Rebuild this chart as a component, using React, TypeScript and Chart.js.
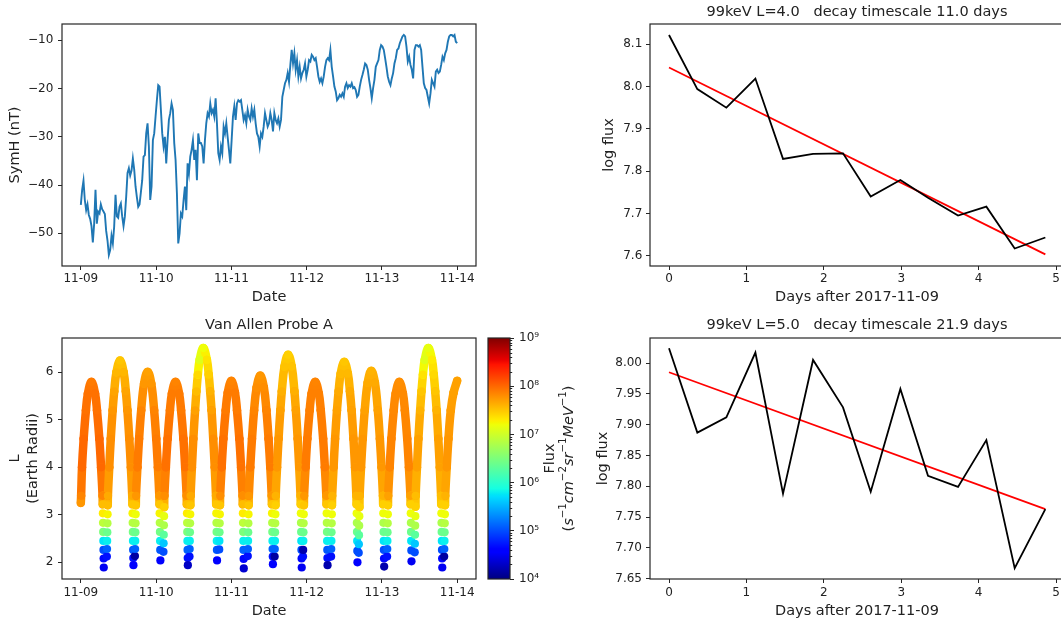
import React, { useEffect, useRef } from 'react';
import { Chart, registerables } from 'chart.js';

Chart.register(...registerables);

const FONT = "'DejaVu Sans', 'Liberation Sans', sans-serif";
const TEXT = '#222222';
const SPINE = '#262626';

// ---------------- data: SymH panel ----------------
const dateTickValues = [0, 1, 2, 3, 4, 5];
const dateTickLabels = ['11-09', '11-10', '11-11', '11-12', '11-13', '11-14'];
const symhTicks = [-50, -40, -30, -20, -10];
const symhTickLabels = ['\u221250', '\u221240', '\u221230', '\u221220', '\u221210'];
const symhCadenceMin = 25.532;
const symhValues = [
  -44.1, -41, -39.1, -43.1, -45.2, -44, -46.2, -47, -48.5, -51.9,
  -48, -41, -48, -45.5, -45.9, -44, -45, -45.5, -46, -49.5,
  -51.5, -54.5, -53.5, -50.5, -52.1, -48.6, -42, -46.5, -46.8, -44.5,
  -43.8, -46.5, -48.5, -46.5, -42.4, -37.5, -36.5, -38, -37, -34.5,
  -36.8, -40.3, -42.5, -44.5, -44, -41.5, -39, -34.1, -33.8, -29.3,
  -27.2, -32,
  -43.1, -40.3, -30.7, -29.3, -25.8, -22.4, -19.3, -19.6, -24.4, -29.3,
  -32, -30, -35.5, -30.7, -26.5, -25.1, -23.1, -24.4, -31.3, -34.8,
  -41.7, -52.1, -50, -45.9, -46.5, -43.1, -40.3, -45.2, -35.5, -37.6,
  -34.1, -32.7, -30.7, -34.8, -32.7, -39, -29.3, -31.3, -31.3, -32,
  -35.5, -30.7, -27.2, -25.1, -25.8, -23.1, -25.1, -24.4, -25.8, -22,
  -27.2, -33.4, -34.8, -32, -33.4, -27.9, -29.3, -27.2, -30, -32.7,
  -35.5, -30.7, -25.8, -23.7, -26.5, -23.1, -22.4, -22.7, -22.4, -24.4,
  -26.5, -25.5, -27.2, -24.4, -25.8, -26.5, -24.1, -25.8, -24.4, -27.2,
  -29.3, -30, -32, -29.3, -30, -27.9, -25.1, -26.5, -27.9, -27.2,
  -25.1, -26.5, -28.9, -25.1, -26.5, -27.2, -26.2, -27.9, -26.5, -21.7,
  -20.3, -18.9, -18.2, -16.8, -18.6, -15.1, -12, -14.8, -12.7, -16.1,
  -14.1, -17.5, -15.5, -17.9, -16.8, -16.1, -14.8, -17.5, -16.1, -14.1,
  -14.4, -13, -13.4, -14.1, -13.7, -15.5, -17.5, -18.6, -17.9, -18.9,
  -17.5, -15.5, -14.1, -13.7, -14.1, -12, -15.5, -17.5, -19.6, -20.6,
  -22.4, -22, -21.3, -21.7, -21, -21.7, -19.6, -18.9, -19.9, -19.3,
  -19.6, -18.9, -19.9, -19.7, -20.3, -21.7, -21.3, -19.6, -18.2, -17.2,
  -16.1, -14.8, -15.1, -16.1, -18.2, -19.9, -22, -19.9, -18.2, -15.5,
  -14.8, -14.1, -12, -11, -11.3, -12, -13.7, -15.5, -17.5, -18.6,
  -19.3, -17.9, -16.8, -14.8, -13.7, -12, -11.7, -10.6, -9.9, -9.2,
  -8.9, -9.2, -11.3, -14.4, -13.4, -15.1, -16.1, -17.9, -12, -11,
  -11, -11.3, -11, -12, -15.5, -18.9, -19.9, -20.3, -21.7, -23.1,
  -21, -18.2, -18.9, -19.6, -16.5, -16.1, -16.8, -16.5, -15.1, -13.4,
  -14.1, -12.7, -12, -10.3, -9.2, -8.9, -8.9, -9.2, -8.9, -10.3,
  -10.6,
];

// ---------------- data: decay panels ----------------
const dayTicks = [0, 1, 2, 3, 4, 5];
const dayTickLabels = ['0', '1', '2', '3', '4', '5'];
const sampleDays = [0, 0.366, 0.741, 1.116, 1.473, 1.861, 2.248, 2.606, 2.989, 3.346, 3.734, 4.1, 4.466, 4.862];
const logFluxL4 = [8.122, 7.994, 7.95, 8.019, 7.829, 7.841, 7.842, 7.74, 7.779, 7.737, 7.695, 7.716, 7.617, 7.643];
const logFluxL5 = [8.024, 7.887, 7.912, 8.017, 7.788, 8.005, 7.928, 7.791, 7.958, 7.817, 7.799, 7.875, 7.667, 7.763];
const fitDays = [0, 4.862];
const fitL4 = [8.045, 7.603];
const fitL5 = [7.985, 7.763];
const l4Ticks = [7.6, 7.7, 7.8, 7.9, 8.0, 8.1];
const l4TickLabels = ['7.6', '7.7', '7.8', '7.9', '8.0', '8.1'];
const l5Ticks = [7.65, 7.7, 7.75, 7.8, 7.85, 7.9, 7.95, 8.0];
const l5TickLabels = ['7.65', '7.70', '7.75', '7.80', '7.85', '7.90', '7.95', '8.00'];

// ---------------- data: Van Allen Probe A track [day, L, log10 flux] ----------------
const lShellTicks = [2, 3, 4, 5, 6];
const lShellTickLabels = ['2', '3', '4', '5', '6'];
const colorbarTicks = [1e4, 1e5, 1e6, 1e7, 1e8, 1e9];
const colorbarTickLabels = ['10\u2074', '10\u2075', '10\u2076', '10\u2077', '10\u2078', '10\u2079'];

const orbit00 = [
  [0.000, 3.25, 7.75], [0.004, 3.40, 7.85], [0.016, 4.00, 8.00], [0.038, 4.60, 8.00], [0.068, 5.20, 7.95], [0.094, 5.55, 7.95], [0.141, 5.80, 7.90],
  [0.189, 5.55, 7.95], [0.215, 5.20, 7.95], [0.246, 4.60, 8.00], [0.269, 4.00, 8.00], [0.289, 3.40, 7.85],
  [0.291, 3.22, 7.55], [0.293, 3.03, 7.30], [0.295, 2.83, 6.90], [0.297, 2.64, 6.50], [0.299, 2.45, 5.75], [0.301, 2.26, 5.00], [0.303, 2.08, 4.65], [0.305, 1.89, 4.50],
  [0.346, 2.12, 4.70], [0.348, 2.28, 5.10], [0.350, 2.45, 5.80], [0.352, 2.63, 6.40], [0.354, 2.82, 6.85], [0.356, 3.01, 7.25], [0.358, 3.20, 7.55],
];
const orbit01 = [
  [0.360, 3.40, 7.65], [0.378, 4.00, 7.80], [0.398, 4.60, 7.80], [0.423, 5.20, 7.75], [0.444, 5.60, 7.68], [0.473, 6.00, 7.58], [0.521, 6.25, 7.50],
  [0.569, 6.00, 7.58], [0.598, 5.60, 7.68], [0.619, 5.20, 7.75], [0.644, 4.60, 7.80], [0.665, 4.00, 7.80], [0.683, 3.40, 7.65],
  [0.685, 3.22, 7.50], [0.687, 3.03, 7.25], [0.689, 2.83, 6.85], [0.691, 2.64, 6.45], [0.693, 2.45, 5.80], [0.695, 2.26, 5.05], [0.697, 2.09, 4.70], [0.699, 1.94, 4.55],
  [0.719, 2.13, 4.15], [0.721, 2.28, 5.10], [0.723, 2.45, 5.80], [0.725, 2.63, 6.40], [0.727, 2.82, 6.85], [0.729, 3.01, 7.20], [0.731, 3.20, 7.50],
];
const orbit02 = [
  [0.733, 3.40, 7.75], [0.752, 4.00, 7.90], [0.774, 4.60, 7.90], [0.802, 5.20, 7.85], [0.840, 5.76, 7.75], [0.888, 6.01, 7.70],
  [0.936, 5.76, 7.75], [0.974, 5.20, 7.85], [1.002, 4.60, 7.90], [1.024, 4.00, 7.90], [1.043, 3.40, 7.75],
  [1.045, 3.22, 7.50], [1.047, 3.03, 7.25], [1.049, 2.83, 6.85], [1.051, 2.64, 6.45], [1.053, 2.45, 5.80], [1.055, 2.26, 5.05], [1.057, 2.04, 4.60],
  [1.098, 2.22, 5.00], [1.100, 2.40, 5.60], [1.102, 2.58, 6.30], [1.104, 2.78, 6.80], [1.106, 2.97, 7.15], [1.108, 3.16, 7.45],
];
const orbit03 = [
  [1.110, 3.40, 7.80], [1.130, 4.00, 7.95], [1.153, 4.60, 7.95], [1.184, 5.20, 7.90], [1.210, 5.55, 7.90], [1.258, 5.80, 7.85],
  [1.306, 5.55, 7.90], [1.332, 5.20, 7.90], [1.363, 4.60, 7.95], [1.386, 4.00, 7.95], [1.406, 3.40, 7.80],
  [1.408, 3.22, 7.55], [1.410, 3.03, 7.30], [1.412, 2.83, 6.90], [1.414, 2.64, 6.50], [1.416, 2.45, 5.80], [1.418, 2.26, 5.10], [1.420, 2.09, 4.70], [1.422, 1.94, 4.30],
  [1.444, 2.12, 4.70], [1.446, 2.28, 5.10], [1.448, 2.45, 5.80], [1.450, 2.63, 6.40], [1.452, 2.82, 6.85], [1.454, 3.01, 7.25], [1.456, 3.20, 7.50],
];
const orbit04 = [
  [1.458, 3.40, 7.65], [1.476, 4.00, 7.80], [1.495, 4.60, 7.80], [1.518, 5.20, 7.70], [1.536, 5.60, 7.55], [1.555, 5.95, 7.40], [1.579, 6.26, 7.10], [1.627, 6.51, 7.20],
  [1.675, 6.26, 7.35], [1.699, 5.95, 7.45], [1.718, 5.60, 7.60], [1.737, 5.20, 7.70], [1.759, 4.60, 7.80], [1.779, 4.00, 7.80], [1.796, 3.40, 7.65],
  [1.798, 3.22, 7.50], [1.800, 3.03, 7.25], [1.802, 2.83, 6.85], [1.804, 2.64, 6.45], [1.806, 2.45, 5.80], [1.808, 2.26, 5.05], [1.810, 2.04, 4.60],
  [1.839, 2.27, 5.00], [1.841, 2.45, 5.75], [1.843, 2.63, 6.40], [1.845, 2.82, 6.85], [1.847, 3.01, 7.25], [1.849, 3.20, 7.50],
];
const orbit05 = [
  [1.851, 3.40, 7.80], [1.871, 4.00, 7.95], [1.894, 4.60, 7.95], [1.925, 5.20, 7.90], [1.952, 5.57, 7.90], [2.000, 5.82, 7.85],
  [2.048, 5.57, 7.90], [2.075, 5.20, 7.90], [2.106, 4.60, 7.95], [2.129, 4.00, 7.95], [2.149, 3.40, 7.80],
  [2.151, 3.22, 7.55], [2.153, 3.03, 7.30], [2.155, 2.83, 6.90], [2.157, 2.64, 6.50], [2.159, 2.45, 5.80], [2.161, 2.26, 5.10], [2.163, 2.07, 4.65], [2.165, 1.87, 4.35],
  [2.218, 2.13, 4.70], [2.220, 2.28, 5.10], [2.222, 2.45, 5.80], [2.224, 2.63, 6.40], [2.226, 2.82, 6.85], [2.228, 3.01, 7.25], [2.230, 3.20, 7.50],
];
const orbit06 = [
  [2.232, 3.40, 7.75], [2.251, 4.00, 7.90], [2.274, 4.60, 7.90], [2.302, 5.20, 7.85], [2.336, 5.68, 7.80], [2.384, 5.93, 7.75],
  [2.432, 5.68, 7.80], [2.466, 5.20, 7.85], [2.494, 4.60, 7.90], [2.517, 4.00, 7.90], [2.536, 3.40, 7.75],
  [2.538, 3.22, 7.50], [2.540, 3.03, 7.25], [2.542, 2.83, 6.85], [2.544, 2.64, 6.45], [2.546, 2.45, 5.80], [2.548, 2.28, 5.10], [2.550, 2.12, 4.70], [2.552, 1.96, 4.55],
  [2.575, 2.12, 4.15], [2.577, 2.28, 5.10], [2.579, 2.45, 5.80], [2.581, 2.63, 6.40], [2.583, 2.82, 6.85], [2.585, 3.01, 7.20], [2.587, 3.20, 7.45],
];
const orbit07 = [
  [2.589, 3.40, 7.60], [2.607, 4.00, 7.75], [2.627, 4.60, 7.75], [2.651, 5.20, 7.70], [2.670, 5.60, 7.62], [2.706, 6.12, 7.52], [2.754, 6.37, 7.45],
  [2.802, 6.12, 7.52], [2.838, 5.60, 7.62], [2.857, 5.20, 7.70], [2.881, 4.60, 7.75], [2.901, 4.00, 7.75], [2.919, 3.40, 7.60],
  [2.921, 3.22, 7.45], [2.923, 3.03, 7.20], [2.925, 2.83, 6.80], [2.927, 2.64, 6.40], [2.929, 2.45, 5.75], [2.931, 2.26, 5.00], [2.933, 2.08, 4.65], [2.935, 1.89, 4.50],
  [2.952, 2.12, 4.70], [2.954, 2.26, 4.20], [2.956, 2.45, 5.80], [2.958, 2.63, 6.40], [2.960, 2.82, 6.85], [2.962, 3.01, 7.20], [2.964, 3.20, 7.50],
];
const orbit08 = [
  [2.966, 3.40, 7.75], [2.986, 4.00, 7.90], [3.009, 4.60, 7.90], [3.040, 5.20, 7.88], [3.066, 5.55, 7.87], [3.114, 5.80, 7.85],
  [3.162, 5.55, 7.87], [3.188, 5.20, 7.88], [3.219, 4.60, 7.90], [3.242, 4.00, 7.90], [3.262, 3.40, 7.75],
  [3.264, 3.22, 7.50], [3.266, 3.03, 7.20], [3.268, 2.83, 6.85], [3.270, 2.64, 6.45], [3.272, 2.45, 5.80], [3.274, 2.26, 5.05], [3.276, 2.09, 4.70], [3.278, 1.94, 4.20],
  [3.325, 2.12, 4.70], [3.327, 2.28, 5.10], [3.329, 2.45, 5.80], [3.331, 2.63, 6.40], [3.333, 2.82, 6.85], [3.335, 3.01, 7.20], [3.337, 3.20, 7.45],
];
const orbit09 = [
  [3.339, 3.40, 7.60], [3.358, 4.00, 7.75], [3.378, 4.60, 7.75], [3.403, 5.20, 7.70], [3.425, 5.60, 7.65], [3.452, 5.97, 7.57], [3.500, 6.22, 7.50],
  [3.548, 5.97, 7.57], [3.575, 5.60, 7.65], [3.597, 5.20, 7.70], [3.622, 4.60, 7.75], [3.643, 4.00, 7.75], [3.661, 3.40, 7.60],
  [3.663, 3.22, 7.45], [3.665, 3.03, 7.20], [3.667, 2.83, 6.80], [3.669, 2.64, 6.40], [3.671, 2.45, 5.75], [3.673, 2.24, 5.00], [3.675, 2.00, 4.60],
  [3.692, 2.20, 5.00], [3.694, 2.38, 5.60], [3.696, 2.57, 6.30], [3.698, 2.77, 6.80], [3.700, 2.97, 7.15], [3.702, 3.16, 7.45],
];
const orbit10 = [
  [3.704, 3.40, 7.60], [3.723, 4.00, 7.75], [3.745, 4.60, 7.75], [3.772, 5.20, 7.70], [3.811, 5.78, 7.65], [3.859, 6.03, 7.60],
  [3.907, 5.78, 7.65], [3.946, 5.20, 7.70], [3.973, 4.60, 7.75], [3.995, 4.00, 7.75], [4.014, 3.40, 7.60],
  [4.016, 3.22, 7.45], [4.018, 3.03, 7.20], [4.020, 2.83, 6.80], [4.022, 2.64, 6.40], [4.024, 2.45, 5.75], [4.026, 2.26, 5.00], [4.028, 2.08, 4.65], [4.030, 1.91, 4.20],
  [4.069, 2.12, 4.70], [4.071, 2.28, 5.10], [4.073, 2.45, 5.80], [4.075, 2.63, 6.40], [4.077, 2.82, 6.85], [4.079, 3.01, 7.20], [4.081, 3.20, 7.45],
];
const orbit11 = [
  [4.083, 3.40, 7.70], [4.103, 4.00, 7.85], [4.126, 4.60, 7.85], [4.157, 5.20, 7.83], [4.183, 5.55, 7.82], [4.231, 5.80, 7.80],
  [4.279, 5.55, 7.82], [4.305, 5.20, 7.83], [4.336, 4.60, 7.85], [4.359, 4.00, 7.85], [4.379, 3.40, 7.70],
  [4.381, 3.22, 7.45], [4.383, 3.03, 7.20], [4.385, 2.83, 6.80], [4.387, 2.64, 6.40], [4.389, 2.45, 5.75], [4.391, 2.25, 5.00], [4.393, 2.02, 4.50],
  [4.436, 2.21, 5.00], [4.438, 2.39, 5.60], [4.440, 2.58, 6.30], [4.442, 2.77, 6.80], [4.444, 2.97, 7.15], [4.446, 3.17, 7.45],
];
const orbit12 = [
  [4.448, 3.40, 7.55], [4.466, 4.00, 7.70], [4.485, 4.60, 7.70], [4.508, 5.20, 7.60], [4.526, 5.60, 7.50], [4.545, 5.95, 7.35], [4.569, 6.26, 7.10], [4.617, 6.51, 7.15],
  [4.665, 6.26, 7.30], [4.689, 5.95, 7.40], [4.708, 5.60, 7.50], [4.727, 5.20, 7.60], [4.749, 4.60, 7.70], [4.769, 4.00, 7.70], [4.786, 3.40, 7.55],
  [4.788, 3.22, 7.45], [4.790, 3.03, 7.20], [4.792, 2.83, 6.80], [4.794, 2.64, 6.40], [4.796, 2.45, 5.75], [4.798, 2.26, 5.00], [4.800, 2.08, 4.65], [4.802, 1.89, 4.50],
  [4.827, 2.12, 4.15], [4.829, 2.28, 5.10], [4.831, 2.45, 5.80], [4.833, 2.63, 6.40], [4.835, 2.82, 6.85], [4.837, 3.01, 7.20], [4.839, 3.20, 7.45],
];
const orbit13 = [
  [4.841, 3.40, 7.60], [4.861, 4.00, 7.75], [4.884, 4.60, 7.75], [4.915, 5.20, 7.72], [4.952, 5.57, 7.70], [5.000, 5.82, 7.70],
];
const vapTrack = [
  ...orbit00, ...orbit01, ...orbit02, ...orbit03, ...orbit04, ...orbit05, ...orbit06,
  ...orbit07, ...orbit08, ...orbit09, ...orbit10, ...orbit11, ...orbit12, ...orbit13,
];

// ---------------- jet colormap (matplotlib segment data) ----------------
const JET_R = [[0, 0], [0.35, 0], [0.66, 1], [0.89, 1], [1, 0.5]];
const JET_G = [[0, 0], [0.125, 0], [0.375, 1], [0.64, 1], [0.91, 0], [1, 0]];
const JET_B = [[0, 0.5], [0.11, 1], [0.34, 1], [0.65, 0], [1, 0]];
const JET_STOPS = [0, 0.11, 0.125, 0.34, 0.35, 0.375, 0.64, 0.65, 0.66, 0.89, 0.91, 1];
const LOG_MIN = 4;
const LOG_MAX = 9;

function piece(t: number, pts: number[][]) {
  for (let i = 1; i < pts.length; i++) {
    if (t <= pts[i][0]) {
      const [x0, y0] = pts[i - 1];
      const [x1, y1] = pts[i];
      return y0 + ((y1 - y0) * (t - x0)) / (x1 - x0);
    }
  }
  return pts[pts.length - 1][1];
}
function jet(t: number) {
  const u = Math.min(1, Math.max(0, t));
  const r = Math.round(255 * piece(u, JET_R));
  const g = Math.round(255 * piece(u, JET_G));
  const b = Math.round(255 * piece(u, JET_B));
  return `rgb(${r},${g},${b})`;
}
const fluxColor = (logF: number) => jet((logF - LOG_MIN) / (LOG_MAX - LOG_MIN));

// ---------------- helpers ----------------
const framePlugin = {
  id: 'frame',
  afterDraw(chart: any, _args: any, opts: any) {
    const { ctx, chartArea: a } = chart;
    ctx.save();
    ctx.strokeStyle = SPINE;
    ctx.lineWidth = 1.2;
    ctx.strokeRect(a.left, a.top, a.right - a.left, a.bottom - a.top);
    if (opts && opts.title) {
      ctx.fillStyle = TEXT;
      ctx.font = `14.5px ${FONT}`;
      ctx.textAlign = 'center';
      ctx.textBaseline = 'middle';
      ctx.fillText(opts.title, (a.left + a.right) / 2, a.top - opts.gap);
    }
    ctx.restore();
  },
};

function axis(o: any) {
  return {
    type: o.type || 'linear',
    position: o.position,
    display: true,
    min: o.min,
    max: o.max,
    afterBuildTicks: (s: any) => {
      s.ticks = o.ticks.map((v: number) => ({ value: v }));
    },
    afterFit: (s: any) => {
      if (o.isX) s.height = o.size;
      else s.width = o.size;
    },
    grid: { drawOnChartArea: false, drawTicks: true, tickLength: 4, color: SPINE, lineWidth: 1 },
    border: { display: false },
    ticks: {
      autoSkip: false,
      maxRotation: 0,
      minRotation: 0,
      padding: o.tickPad,
      color: TEXT,
      font: { family: FONT, size: 12 },
      callback: (_v: any, i: number) => o.labels[i],
    },
    title: o.title || { display: false },
  };
}
function axisTitle(text: any, pad: any, lineHeight = 1.2) {
  return {
    display: true,
    text,
    color: TEXT,
    font: { family: FONT, size: 14.5, lineHeight },
    padding: pad,
  };
}
const baseOptions = {
  responsive: false,
  maintainAspectRatio: false,
  animation: false,
  devicePixelRatio: 1,
  events: [],
};
const basePlugins = { legend: { display: false }, tooltip: { enabled: false }, title: { display: false } };

function symhConfig(): any {
  return {
    type: 'line',
    data: {
      datasets: [
        {
          data: symhValues.map((v, i) => ({ x: (i * symhCadenceMin) / 1440, y: v })),
          borderColor: '#1f77b4',
          borderWidth: 1.9,
          pointRadius: 0,
          tension: 0,
          fill: false,
        },
      ],
    },
    options: {
      ...baseOptions,
      layout: { padding: { left: 0, top: 24, right: 14, bottom: 4 } },
      scales: {
        x: axis({ min: -0.25, max: 5.25, ticks: dateTickValues, labels: dateTickLabels, isX: true, size: 40, tickPad: 2.1, title: axisTitle('Date', { top: 0, bottom: 0 }) }),
        y: axis({ min: -56.78, max: -6.62, ticks: symhTicks, labels: symhTickLabels, isX: false, size: 62, tickPad: 4.7, title: axisTitle('SymH (nT)', { top: 6.3, bottom: 0 }) }),
      },
      plugins: { ...basePlugins, frame: {} },
    },
    plugins: [framePlugin],
  };
}

function decayConfig(values: number[], fit: number[], yMin: number, yMax: number, ticks: number[], labels: string[], title: string, tickPad: number, titlePad: number, padTop: number): any {
  return {
    type: 'line',
    data: {
      datasets: [
        {
          data: sampleDays.map((d, i) => ({ x: d, y: values[i] })),
          borderColor: '#000000',
          borderWidth: 1.8,
          pointRadius: 0,
          tension: 0,
          fill: false,
        },
        {
          data: fitDays.map((d, i) => ({ x: d, y: fit[i] })),
          borderColor: '#ff0000',
          borderWidth: 1.8,
          pointRadius: 0,
          tension: 0,
          fill: false,
        },
      ],
    },
    options: {
      ...baseOptions,
      layout: { padding: { left: 0, top: padTop, right: 16, bottom: padTop === 24 ? 4 : 3 } },
      scales: {
        x: axis({ min: -0.2455, max: 5.103, ticks: dayTicks, labels: dayTickLabels, isX: true, size: padTop === 24 ? 40 : 41, tickPad: padTop === 24 ? 2.1 : 2.5, title: axisTitle('Days after 2017-11-09', { top: 0, bottom: 0 }) }),
        y: axis({ min: yMin, max: yMax, ticks, labels, isX: false, size: 70, tickPad, title: axisTitle('log flux', { top: titlePad, bottom: 0 }) }),
      },
      plugins: { ...basePlugins, frame: { title, gap: padTop === 24 ? 11.7 : 13 } },
    },
    plugins: [framePlugin],
  };
}

function trackConfig(): any {
  return {
    type: 'line',
    data: {
      datasets: [
        {
          data: vapTrack.map((p) => ({ x: p[0], y: p[1] })),
          borderWidth: 8.5,
          borderCapStyle: 'round',
          borderJoinStyle: 'round',
          tension: 0.4,
          fill: false,
          pointRadius: 4.1,
          pointHoverRadius: 4.1,
          pointBorderWidth: 0,
          pointBorderColor: 'rgba(0,0,0,0)',
          pointBackgroundColor: (c: any) => fluxColor(vapTrack[c.dataIndex][2]),
          segment: {
            borderColor: (c: any) => {
              const a = vapTrack[c.p0DataIndex];
              const b = vapTrack[c.p1DataIndex];
              if (a[1] < 3.3 && b[1] < 3.3) return 'rgba(0,0,0,0)';
              return fluxColor((a[2] + b[2]) / 2);
            },
          },
        },
      ],
    },
    options: {
      ...baseOptions,
      layout: { padding: { left: 0, top: 28, right: 8, bottom: 3 } },
      scales: {
        x: axis({ min: -0.25, max: 5.25, ticks: dateTickValues, labels: dateTickLabels, isX: true, size: 41, tickPad: 2.5, title: axisTitle('Date', { top: 0, bottom: 0 }) }),
        y: axis({ min: 1.648, max: 6.722, ticks: lShellTicks, labels: lShellTickLabels, isX: false, size: 62, tickPad: 4.7, title: axisTitle(['L', '(Earth Radii)'], { top: 5.85, bottom: 0 }, 1.262) }),
      },
      plugins: { ...basePlugins, frame: { title: 'Van Allen Probe A', gap: 13 } },
    },
    plugins: [framePlugin],
  };
}

const colorbarPlugin = {
  id: 'colorbarFill',
  beforeDatasetsDraw(chart: any) {
    const { ctx, chartArea: a } = chart;
    const g = ctx.createLinearGradient(0, a.bottom, 0, a.top);
    JET_STOPS.forEach((t) => g.addColorStop(t, jet(t)));
    ctx.save();
    ctx.fillStyle = g;
    ctx.fillRect(a.left, a.top, a.right - a.left, a.bottom - a.top);
    ctx.restore();
  },
  afterDraw(chart: any) {
    const { ctx, chartArea: a } = chart;
    const y = chart.scales.y;
    ctx.save();
    ctx.strokeStyle = SPINE;
    ctx.lineWidth = 1;
    for (let n = 4; n < 9; n++) {
      for (let k = 2; k <= 9; k++) {
        const py = Math.round(y.getPixelForValue(k * Math.pow(10, n))) + 0.5;
        ctx.beginPath();
        ctx.moveTo(a.right, py);
        ctx.lineTo(a.right + 2.2, py);
        ctx.stroke();
      }
    }
    const cy = (a.top + a.bottom) / 2;
    ctx.fillStyle = TEXT;
    ctx.textBaseline = 'middle';
    ctx.textAlign = 'center';
    ctx.translate(a.right + 40.7, cy);
    ctx.rotate(-Math.PI / 2);
    ctx.font = `14.5px ${FONT}`;
    ctx.fillText('Flux', 0, 0);
    ctx.restore();

    const pieces = [
      { t: '(', it: false, sup: false },
      { t: 's', it: true, sup: false },
      { t: '\u22121', it: false, sup: true },
      { t: 'cm', it: true, sup: false },
      { t: '\u22122', it: false, sup: true },
      { t: 'sr', it: true, sup: false },
      { t: '\u22121', it: false, sup: true },
      { t: 'MeV', it: true, sup: false },
      { t: '\u22121', it: false, sup: true },
      { t: ')', it: false, sup: false },
    ];
    const fontOf = (p: any) => (p.sup ? `10.2px ${FONT}` : `${p.it ? 'italic ' : ''}14.5px ${FONT}`);
    ctx.save();
    ctx.fillStyle = TEXT;
    ctx.textBaseline = 'middle';
    ctx.textAlign = 'left';
    let total = 0;
    const widths = pieces.map((p) => {
      ctx.font = fontOf(p);
      const w = ctx.measureText(p.t).width;
      total += w;
      return w;
    });
    ctx.translate(a.right + 59, cy);
    ctx.rotate(-Math.PI / 2);
    let x = -total / 2;
    pieces.forEach((p, i) => {
      ctx.font = fontOf(p);
      ctx.fillText(p.t, x, p.sup ? -5.5 : 0);
      x += widths[i];
    });
    ctx.restore();

    ctx.save();
    ctx.strokeStyle = SPINE;
    ctx.lineWidth = 1.2;
    ctx.strokeRect(a.left, a.top, a.right - a.left, a.bottom - a.top);
    ctx.restore();
  },
};

function colorbarConfig(): any {
  return {
    type: 'line',
    data: { datasets: [] },
    options: {
      ...baseOptions,
      layout: { padding: { left: 4, top: 28, right: 0, bottom: 44 } },
      scales: {
        x: { type: 'linear', display: false, min: 0, max: 1 },
        y: axis({ type: 'logarithmic', position: 'right', min: 1e4, max: 1e9, ticks: colorbarTicks, labels: colorbarTickLabels, isX: false, size: 70, tickPad: 5 }),
      },
      plugins: { ...basePlugins },
    },
    plugins: [colorbarPlugin],
  };
}

export default function App() {
  const symhRef = useRef<HTMLCanvasElement>(null);
  const l4Ref = useRef<HTMLCanvasElement>(null);
  const trackRef = useRef<HTMLCanvasElement>(null);
  const cbarRef = useRef<HTMLCanvasElement>(null);
  const l5Ref = useRef<HTMLCanvasElement>(null);

  useEffect(() => {
    const charts: Chart[] = [];
    charts.push(new Chart(symhRef.current as HTMLCanvasElement, symhConfig()));
    charts.push(
      new Chart(
        l4Ref.current as HTMLCanvasElement,
        decayConfig(logFluxL4, fitL4, 7.5756, 8.148, l4Ticks, l4TickLabels, '99keV L=4.0   decay timescale 11.0 days', 3.7, 20.6, 24)
      )
    );
    charts.push(new Chart(trackRef.current as HTMLCanvasElement, trackConfig()));
    charts.push(new Chart(cbarRef.current as HTMLCanvasElement, colorbarConfig()));
    charts.push(
      new Chart(
        l5Ref.current as HTMLCanvasElement,
        decayConfig(logFluxL5, fitL5, 7.6495, 8.0406, l5Ticks, l5TickLabels, '99keV L=5.0   decay timescale 21.9 days', 4, 14.6, 28)
      )
    );
    return () => charts.forEach((c) => c.destroy());
  }, []);

  const cv = (left: number, top: number, w: number, h: number) => ({
    position: 'absolute' as const,
    left,
    top,
    width: w,
    height: h,
    display: 'block',
  });

  return (
    <div style={{ position: 'fixed', left: 0, top: 0, width: 1061, height: 623, overflow: 'hidden', background: '#ffffff' }}>
      <canvas ref={symhRef} width={490} height={310} style={cv(0, 0, 490, 310)} />
      <canvas ref={l4Ref} width={500} height={310} style={cv(580, 0, 500, 310)} />
      <canvas ref={trackRef} width={484} height={313} style={cv(0, 310, 484, 313)} />
      <canvas ref={cbarRef} width={96} height={313} style={cv(484, 310, 96, 313)} />
      <canvas ref={l5Ref} width={500} height={313} style={cv(580, 310, 500, 313)} />
    </div>
  );
}
